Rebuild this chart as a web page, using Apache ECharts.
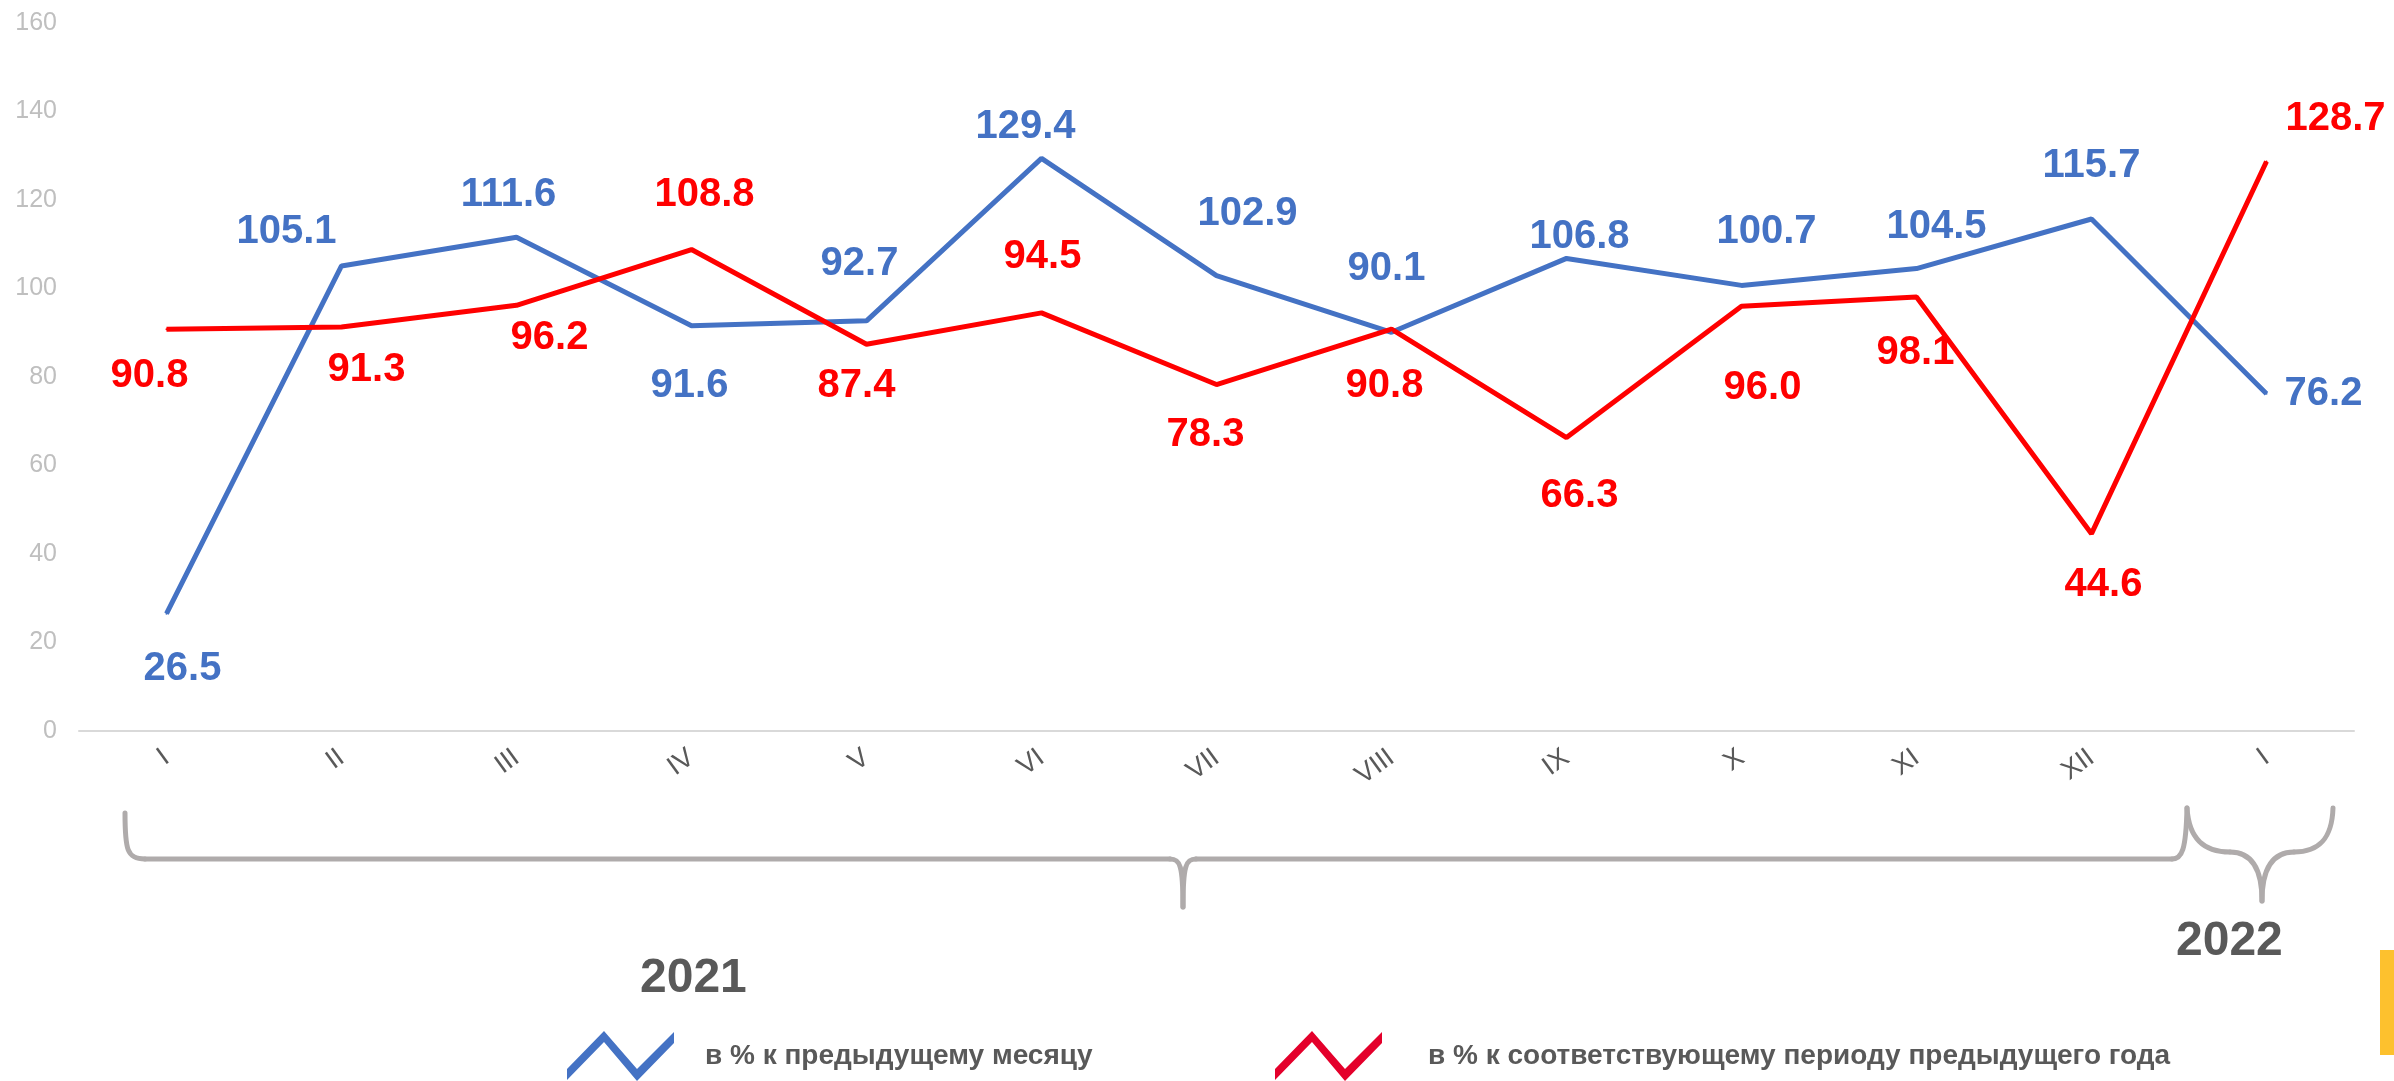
<!DOCTYPE html>
<html>
<head>
<meta charset="utf-8">
<script src="https://cdn.jsdelivr.net/npm/echarts@6/dist/echarts.min.js"></script>
<style>
  html, body { margin: 0; padding: 0; background: #fff; }
  #chart { width: 2394px; height: 1081px; }
</style>
</head>
<body>
<div id="chart"></div>
<script>
// месяцы 2021 + январь 2022
const months = ['I', 'II', 'III', 'IV', 'V', 'VI', 'VII', 'VIII', 'IX', 'X', 'XI', 'XII', 'I'];
// в % к предыдущему месяцу
const prevMonth = [26.5, 105.1, 111.6, 91.6, 92.7, 129.4, 102.9, 90.1, 106.8, 100.7, 104.5, 115.7, 76.2];
// в % к соответствующему периоду предыдущего года
const prevYear = [90.8, 91.3, 96.2, 108.8, 87.4, 94.5, 78.3, 90.8, 66.3, 96.0, 98.1, 44.6, 128.7];
const yTicks = [0, 20, 40, 60, 80, 100, 120, 140, 160];

const nameMonth = 'в % к предыдущему месяцу';
const nameYear = 'в % к соответствующему периоду предыдущего года';

// сдвиг подписей от точки (как расставлены в исходнике)
const blueLabelOffsets = [[16, 55], [-55, -34], [-8, -42], [-2, 60], [-7, -57], [-16, -31], [31, -62], [-5, -63], [13, -21], [25, -53], [20, -42], [0, -53], [57, 0]];
const redLabelOffsets = [[-17, 47], [25, 43], [33, 33], [13, -55], [-10, 42], [1, -56], [-11, 50], [-7, 57], [13, 58], [21, 82], [-1, 56], [12, 51], [69, -43]];

const FONT = 'Liberation Sans, Arial, sans-serif';
const BLUE = '#4472c4';
const RED = '#ff0000';
const CRIMSON = '#e4002b';
const GREY_TEXT = '#595959';
const BRACE = '#afabab';

// зигзаг для легенды
const zigzag = 'path://M0,33 L37,-5 L70,33 L107,-4 L107,7 L70,45 L37,6 L0,44 Z';

// скобки: [x1, y1, cpx1, cpy1, cpx2, cpy2, x2, y2]
const braceSegments = [
  [125, 813, 125, 850, 127, 859, 145, 859],
  [145, 859, 600, 859, 800, 859, 1170, 859],
  [1170, 859, 1180, 859, 1183, 865, 1183, 907],
  [1183, 907, 1183, 865, 1186, 859, 1196, 859],
  [1196, 859, 1600, 859, 1900, 859, 2172, 859],
  [2172, 859, 2182, 859, 2186, 850, 2187, 808],
  [2187, 808, 2189, 840, 2205, 852, 2230, 852],
  [2230, 852, 2252, 852, 2262, 870, 2262, 901],
  [2262, 901, 2262, 870, 2272, 852, 2294, 852],
  [2294, 852, 2318, 852, 2332, 840, 2333, 808]
];

function withLabels(values, offsets) {
  return values.map((v, i) => ({ value: v, label: { offset: offsets[i] } }));
}

let myChart = echarts.init(document.getElementById('chart'));

let braceGraphics = braceSegments.map(s => ({
  type: 'bezierCurve',
  shape: { x1: s[0], y1: s[1], cpx1: s[2], cpy1: s[3], cpx2: s[4], cpy2: s[5], x2: s[6], y2: s[7] },
  style: { fill: 'none', stroke: BRACE, lineWidth: 5, lineCap: 'round' }
}));

let legendText = { color: GREY_TEXT, fontSize: 28, fontWeight: 'bold', fontFamily: FONT };

let option = {
  animation: false,
  backgroundColor: '#fff',
  grid: {
    left: 79,
    right: 40,
    top: 23,
    bottom: 350,
    containLabel: false,
    outerBoundsMode: 'none'
  },
  legend: [
    {
      left: 562,
      top: 1026,
      itemWidth: 107,
      itemHeight: 50,
      icon: zigzag,
      selectedMode: false,
      data: [{ name: nameMonth, itemStyle: { color: BLUE } }],
      textStyle: Object.assign({ padding: [14, 0, 0, 26] }, legendText)
    },
    {
      left: 1270,
      top: 1026,
      itemWidth: 107,
      itemHeight: 50,
      icon: zigzag,
      selectedMode: false,
      data: [{ name: nameYear, itemStyle: { color: CRIMSON } }],
      textStyle: Object.assign({ padding: [14, 0, 0, 41] }, legendText)
    }
  ],
  xAxis: {
    type: 'category',
    data: months,
    boundaryGap: true,
    axisTick: { show: false },
    axisLine: { lineStyle: { color: '#d9d9d9', width: 2 } },
    axisLabel: {
      interval: 0,
      rotate: 36,
      margin: 24,
      color: GREY_TEXT,
      fontSize: 27,
      fontFamily: FONT
    },
    splitLine: { show: false }
  },
  yAxis: {
    type: 'value',
    min: yTicks[0],
    max: yTicks[yTicks.length - 1],
    interval: 20,
    axisLine: { show: false },
    axisTick: { show: false },
    splitLine: { show: false },
    axisLabel: {
      margin: 22,
      color: '#bfbfbf',
      fontSize: 25,
      fontFamily: FONT
    }
  },
  series: [
    {
      name: nameMonth,
      type: 'line',
      data: withLabels(prevMonth, blueLabelOffsets),
      symbol: 'circle',
      symbolSize: 2,
      itemStyle: { color: BLUE },
      lineStyle: { color: BLUE, width: 5 },
      label: {
        show: true,
        position: 'inside',
        color: BLUE,
        fontSize: 40,
        fontWeight: 'bold',
        fontFamily: FONT,
        formatter: p => p.value.toFixed(1)
      }
    },
    {
      name: nameYear,
      type: 'line',
      data: withLabels(prevYear, redLabelOffsets),
      symbol: 'circle',
      symbolSize: 2,
      itemStyle: { color: RED },
      lineStyle: { color: RED, width: 5 },
      label: {
        show: true,
        position: 'inside',
        color: RED,
        fontSize: 40,
        fontWeight: 'bold',
        fontFamily: FONT,
        formatter: p => p.value.toFixed(1)
      }
    }
  ],
  graphic: braceGraphics.concat([
    {
      type: 'text',
      left: 640,
      top: 955,
      style: { text: '2021', fill: GREY_TEXT, font: 'bold 48px ' + FONT }
    },
    {
      type: 'text',
      left: 2176,
      top: 918,
      style: { text: '2022', fill: GREY_TEXT, font: 'bold 48px ' + FONT }
    },
    {
      type: 'rect',
      shape: { x: 2380, y: 950, width: 14, height: 105 },
      style: { fill: '#fdc12e' }
    }
  ])
};

myChart.setOption(option);
</script>
</body>
</html>
